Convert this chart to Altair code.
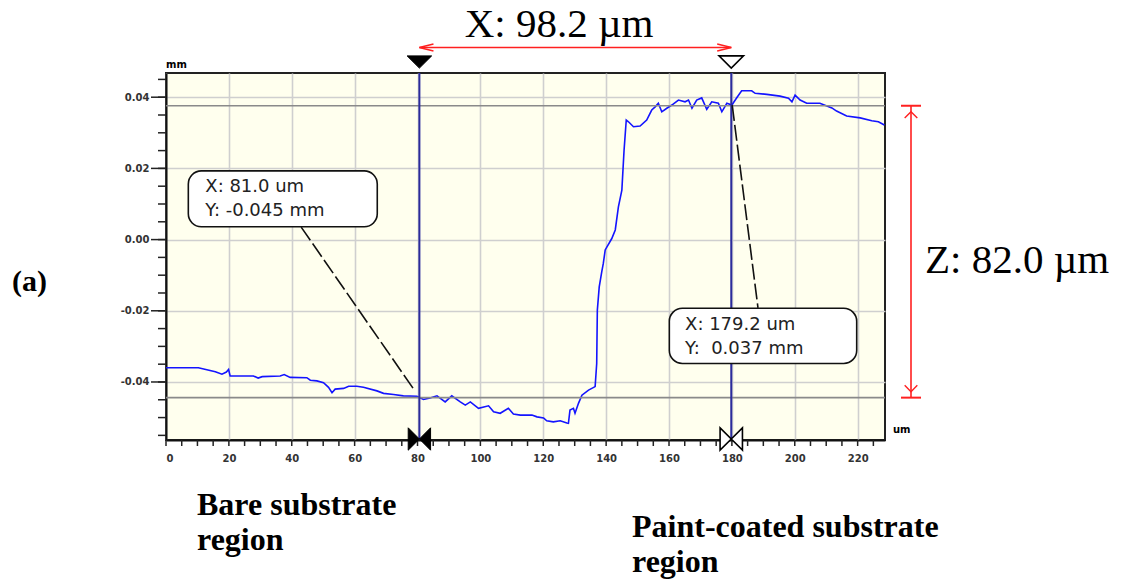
import altair as alt
import pandas as pd

# ---------------- data ----------------
PROFILE_X = [0, 10.3, 15.7, 17.8, 19.2, 19.9, 20.4, 27.8, 29.3, 30.6, 36.3, 37.6, 39.5, 44.8, 45.9,
             48.0, 50.1, 51.7, 52.8, 53.8, 56.5, 58.1, 60.7, 62.8, 67.1, 69.2, 72.4, 75.5, 79.8,
             81.9, 84.0, 86.2, 88.8, 90.9, 93.6, 95.2, 96.8, 99.4, 102.6, 104.2, 106.3, 108.9,
             110.5, 112.7, 116.4, 118.0, 120.1, 121.1, 123.2, 125.4, 127.5, 128.0, 128.5, 129.6,
             130.1, 131.2, 132.3, 134.4, 136.5, 137.0, 137.2, 137.8, 138.6, 139.1, 139.7, 141.8,
             142.9, 143.9, 145.0, 145.7, 146.4, 147.1, 148.7, 150.8, 152.9, 154.5, 155.6, 156.6,
             157.7, 159.3, 160.9, 163.0, 165.1, 166.2, 167.3, 168.8, 170.4, 172.0, 173.6, 175.7,
             176.8, 178.4, 180.0, 181.6, 183.1, 186.3, 187.4, 191.1, 195.3, 198.0, 199.1, 200.1,
             201.7, 203.8, 208.0, 211.8, 213.3, 216.5, 220.8, 224.5, 226.6, 228.5]
PROFILE_Y = [-0.0360, -0.0360, -0.0371, -0.0378, -0.0372, -0.0365, -0.0383, -0.0383, -0.0389,
             -0.0385, -0.0383, -0.0379, -0.0387, -0.0388, -0.0395, -0.0397, -0.0402, -0.0415,
             -0.0430, -0.0420, -0.0418, -0.0412, -0.0412, -0.0415, -0.0425, -0.0432, -0.0435,
             -0.0439, -0.0440, -0.0449, -0.0445, -0.0439, -0.0456, -0.0439, -0.0456, -0.0465,
             -0.0456, -0.0474, -0.0467, -0.0484, -0.0488, -0.0474, -0.0490, -0.0493, -0.0493,
             -0.0498, -0.0501, -0.0509, -0.0512, -0.0509, -0.0515, -0.0516, -0.0479, -0.0474,
             -0.0488, -0.0460, -0.0437, -0.0423, -0.0413, -0.0348, -0.0198, -0.0133, -0.0091,
             -0.0067, -0.0029, 0.0003, 0.0027, 0.0092, 0.0139, 0.0251, 0.0336, 0.0331, 0.0317,
             0.0319, 0.0336, 0.0364, 0.0373, 0.0383, 0.0359, 0.0369, 0.0378, 0.0392, 0.0387,
             0.0392, 0.0369, 0.0392, 0.0398, 0.0366, 0.0387, 0.0383, 0.0359, 0.0383, 0.0378,
             0.0399, 0.0418, 0.0418, 0.0411, 0.0408, 0.0403, 0.0397, 0.0387, 0.0406, 0.0392,
             0.0383, 0.0383, 0.0370, 0.0361, 0.0347, 0.0342, 0.0334, 0.0331, 0.0322]

CURSOR_X = [80.6, 179.8]          # um
CURSOR_Y = [-0.0444, 0.0376]      # mm

X_LABEL_TICKS = [0, 20, 40, 60, 80, 100, 120, 140, 160, 180, 200, 220]
X_MINOR_TICKS = [0, 5, 10, 15, 20, 25, 30, 35, 40, 45, 50, 55, 60, 65, 70, 75, 80, 85, 90, 95, 100,
                 105, 110, 115, 120, 125, 130, 135, 140, 145, 150, 155, 160, 165, 170, 175, 180,
                 185, 190, 195, 200, 205, 210, 215, 220, 225]
Y_LABEL_TICKS = [-0.04, -0.02, 0.0, 0.02, 0.04]
Y_MINOR_TICKS = [-0.055, -0.05, -0.045, -0.04, -0.035, -0.03, -0.025, -0.02, -0.015, -0.01, -0.005,
                 0.0, 0.005, 0.01, 0.015, 0.02, 0.025, 0.03, 0.035, 0.04, 0.045]

BOX1_LINES = ["X: 81.0 um", "Y: -0.045 mm"]
BOX2_LINES = ["X: 179.2 um", "Y:\u00a0 0.037 mm"]
BOX1_RECT = [7.1, 67.2, 0.0193, 0.0036]      # x1, x2, y1, y2 (data units)
BOX2_RECT = [160.1, 219.7, -0.0193, -0.0348]
BOX1_TEXT_POS = [12.5, 0.0148, 0.0081]        # x, y line1, y line2
BOX2_TEXT_POS = [165.1, -0.0240, -0.0306]
LEADER1 = [(43.0, 0.0035), (79.0, -0.0423)]
LEADER2 = [(180.1, 0.0378), (188.3, -0.0192)]

TITLE_X = "X: 98.2 µm"
TITLE_Z = "Z: 82.0 µm"
PANEL = "(a)"
BARE = ["Bare substrate", "region"]
PAINT = ["Paint-coated substrate", "region"]

# ---------------- chart ----------------
W, H = 719, 367
xs = alt.Scale(domain=[0, 228.7], nice=False, zero=False)
ys = alt.Scale(domain=[-0.0563, 0.0468], nice=False, zero=False)

prof = pd.DataFrame({"x": PROFILE_X, "y": PROFILE_Y, "i": range(len(PROFILE_X))})

x_axis = alt.Axis(values=X_LABEL_TICKS, format="d", ticks=False, tickSize=0, labelPadding=13,
                  labelFont="DejaVu Sans", labelFontWeight="bold", labelFontSize=10, labelColor="#333",
                  grid=True, gridColor="#cfcfcf", gridWidth=1.6, domainColor="#111", domainWidth=2,
                  title=None)
y_axis = alt.Axis(values=Y_LABEL_TICKS, ticks=False, tickSize=0, labelPadding=17,
                  labelExpr="(datum.value < -0.0001 ? '-' : '') + format(abs(datum.value), '.2f')",
                  labelFont="DejaVu Sans", labelFontWeight="bold", labelFontSize=10, labelColor="#333",
                  grid=True, gridColor="#cfcfcf", gridWidth=1.6, domainColor="#111", domainWidth=2,
                  title=None)


def X(field="x"):
    return alt.X(f"{field}:Q", scale=xs, axis=x_axis)


def Y(field="y"):
    return alt.Y(f"{field}:Q", scale=ys, axis=y_axis)


line = alt.Chart(prof).mark_line(color="#1414ff", strokeWidth=1.6).encode(
    x=X(), y=Y(), order=alt.Order("i:Q"),
)

# axis ticks (minor/major)
xt = pd.DataFrame({"x": X_MINOR_TICKS})
xticks = alt.Chart(xt).mark_rule(color="#222", strokeWidth=1.5).encode(
    x=X(), y=alt.value(H), y2=alt.value(H + 6))
yt = pd.DataFrame({"y": Y_MINOR_TICKS})
yticks = alt.Chart(yt).mark_rule(color="#222", strokeWidth=1.5).encode(
    y=Y(), x=alt.value(-8), x2=alt.value(0))
ytm = pd.DataFrame({"y": Y_LABEL_TICKS})
yticks_major = alt.Chart(ytm).mark_rule(color="#222", strokeWidth=1.5).encode(
    y=Y(), x=alt.value(-15), x2=alt.value(0))

# cursors
hcur = alt.Chart(pd.DataFrame({"y": CURSOR_Y})).mark_rule(color="#8a8a8a", strokeWidth=1.6).encode(y=Y())
vcur = alt.Chart(pd.DataFrame({"x": CURSOR_X})).mark_rule(color="#2b2b9c", strokeWidth=2).encode(x=X())

TRI = "M -1 -0.5 L 1 -0.5 L 0 0.5 Z"
BOW = "M -1 -1 L 0 0 L -1 1 Z M 1 -1 L 0 0 L 1 1 Z"
c0 = pd.DataFrame({"x": [CURSOR_X[0]]})
c1 = pd.DataFrame({"x": [CURSOR_X[1]]})
tri0 = alt.Chart(c0).mark_point(shape=TRI, size=600, filled=True, fill="#000", stroke="#000",
                                strokeWidth=1, opacity=1).encode(x=X(), y=alt.value(-11))
tri1 = alt.Chart(c1).mark_point(shape=TRI, size=600, filled=True, fill="#fff", stroke="#000",
                                strokeWidth=1.6, opacity=1).encode(x=X(), y=alt.value(-11))
bow0 = alt.Chart(c0).mark_point(shape=BOW, size=500, filled=True, fill="#000", stroke="#000",
                                strokeWidth=1, opacity=1).encode(x=X(), y=alt.value(H - 1))
bow1 = alt.Chart(c1).mark_point(shape=BOW, size=500, filled=True, fill="#fff", stroke="#000",
                                strokeWidth=1.6, opacity=1).encode(x=X(), y=alt.value(H - 1))

# red X dimension arrow
xa = pd.DataFrame({"x1": [CURSOR_X[0]], "x2": [CURSOR_X[1]]})
xarrow = alt.Chart(xa).mark_rule(color="#ff2020", strokeWidth=1.6).encode(
    x=X("x1"), x2="x2:Q", y=alt.value(-25.5))
LCHEV = "M 1 -0.5 L -1 0 L 1 0.5"
RCHEV = "M -1 -0.5 L 1 0 L -1 0.5"
xhead0 = alt.Chart(c0).mark_point(shape=LCHEV, size=200, filled=False, color="#ff2020",
                                  strokeWidth=1.6, opacity=1).encode(
    x=X(), y=alt.value(-25.5), xOffset=alt.value(7))
xhead1 = alt.Chart(c1).mark_point(shape=RCHEV, size=200, filled=False, color="#ff2020",
                                  strokeWidth=1.6, opacity=1).encode(
    x=X(), y=alt.value(-25.5), xOffset=alt.value(-7))

# red Z dimension arrow
za = pd.DataFrame({"y1": [CURSOR_Y[0]], "y2": [CURSOR_Y[1]]})
ZX = 745
zarrow = alt.Chart(za).mark_rule(color="#ff2020", strokeWidth=1.6).encode(
    y=Y("y1"), y2="y2:Q", x=alt.value(ZX))
zbars = alt.Chart(pd.DataFrame({"y": CURSOR_Y})).mark_rule(color="#ff2020", strokeWidth=2).encode(
    y=Y(), x=alt.value(ZX - 10), x2=alt.value(ZX + 10))
UCHEV = "M -1 1 L 0 0 L 1 1"
DCHEV = "M -1 -1 L 0 0 L 1 -1"
zhead_top = alt.Chart(pd.DataFrame({"y": [CURSOR_Y[1]]})).mark_point(
    shape=UCHEV, size=160, filled=False, color="#ff2020", strokeWidth=1.4, opacity=1).encode(
    y=Y(), x=alt.value(ZX), yOffset=alt.value(6))
zhead_bot = alt.Chart(pd.DataFrame({"y": [CURSOR_Y[0]]})).mark_point(
    shape=DCHEV, size=160, filled=False, color="#ff2020", strokeWidth=1.4, opacity=1).encode(
    y=Y(), x=alt.value(ZX), yOffset=alt.value(-6))

# leader lines
lead = pd.DataFrame({
    "x": [LEADER1[0][0], LEADER1[1][0], LEADER2[0][0], LEADER2[1][0]],
    "y": [LEADER1[0][1], LEADER1[1][1], LEADER2[0][1], LEADER2[1][1]],
    "g": ["a", "a", "b", "b"],
})
leaders = alt.Chart(lead).mark_line(color="#111", strokeWidth=1.6, strokeDash=[16, 4]).encode(
    x=X(), y=Y(), detail="g:N")

# annotation boxes
boxes = pd.DataFrame({
    "x1": [BOX1_RECT[0], BOX2_RECT[0]], "x2": [BOX1_RECT[1], BOX2_RECT[1]],
    "y1": [BOX1_RECT[2], BOX2_RECT[2]], "y2": [BOX1_RECT[3], BOX2_RECT[3]],
})
box = alt.Chart(boxes).mark_rect(fill="#ffffff", stroke="#111", strokeWidth=1.6, cornerRadius=13).encode(
    x=X("x1"), x2="x2:Q", y=Y("y1"), y2="y2:Q")
btxt = pd.DataFrame({
    "x": [BOX1_TEXT_POS[0], BOX1_TEXT_POS[0], BOX2_TEXT_POS[0], BOX2_TEXT_POS[0]],
    "y": [BOX1_TEXT_POS[1], BOX1_TEXT_POS[2], BOX2_TEXT_POS[1], BOX2_TEXT_POS[2]],
    "t": [BOX1_LINES[0], BOX1_LINES[1], BOX2_LINES[0], BOX2_LINES[1]],
})
boxtext = alt.Chart(btxt).mark_text(align="left", baseline="middle", font="DejaVu Sans",
                                    fontSize=18, color="#222").encode(x=X(), y=Y(), text="t:N")


# free texts (pixel placement relative to plot origin)
def label(text, x, y, size, font="Liberation Serif", weight="normal", align="left"):
    return alt.Chart(pd.DataFrame({"t": [text]})).mark_text(
        align=align, baseline="middle", font=font, fontSize=size, fontWeight=weight, color="#000"
    ).encode(x=alt.value(x), y=alt.value(y), text="t:N")


texts = [
    label(TITLE_X, 393, -48, 41, align="center"),
    label(TITLE_Z, 759, 188, 41),
    label(PANEL, -154, 209, 30, weight="bold"),
    label(BARE[0], 31, 432, 32, weight="bold"),
    label(BARE[1], 31, 467, 32, weight="bold"),
    label(PAINT[0], 466, 454, 32, weight="bold"),
    label(PAINT[1], 466, 489, 32, weight="bold"),
    label("mm", 0, -8, 10, font="DejaVu Sans", weight="bold"),
    label("um", 727, 357, 10, font="DejaVu Sans", weight="bold"),
]

chart = alt.layer(
    line, hcur, yticks, yticks_major, xticks, vcur, leaders, box, boxtext,
    tri0, tri1, bow0, bow1, xarrow, xhead0, xhead1, zarrow, zbars, zhead_top, zhead_bot,
    *texts,
).properties(
    width=W, height=H,
    padding={"left": 166, "top": 73, "right": 236, "bottom": 144},
    autosize=alt.AutoSizeParams(type="none"),
    background="#ffffff",
).configure_view(
    fill="#ffffee", stroke="#222", strokeWidth=2,
)

chart.save("out.html", embed_options={"renderer": "svg", "actions": False})
